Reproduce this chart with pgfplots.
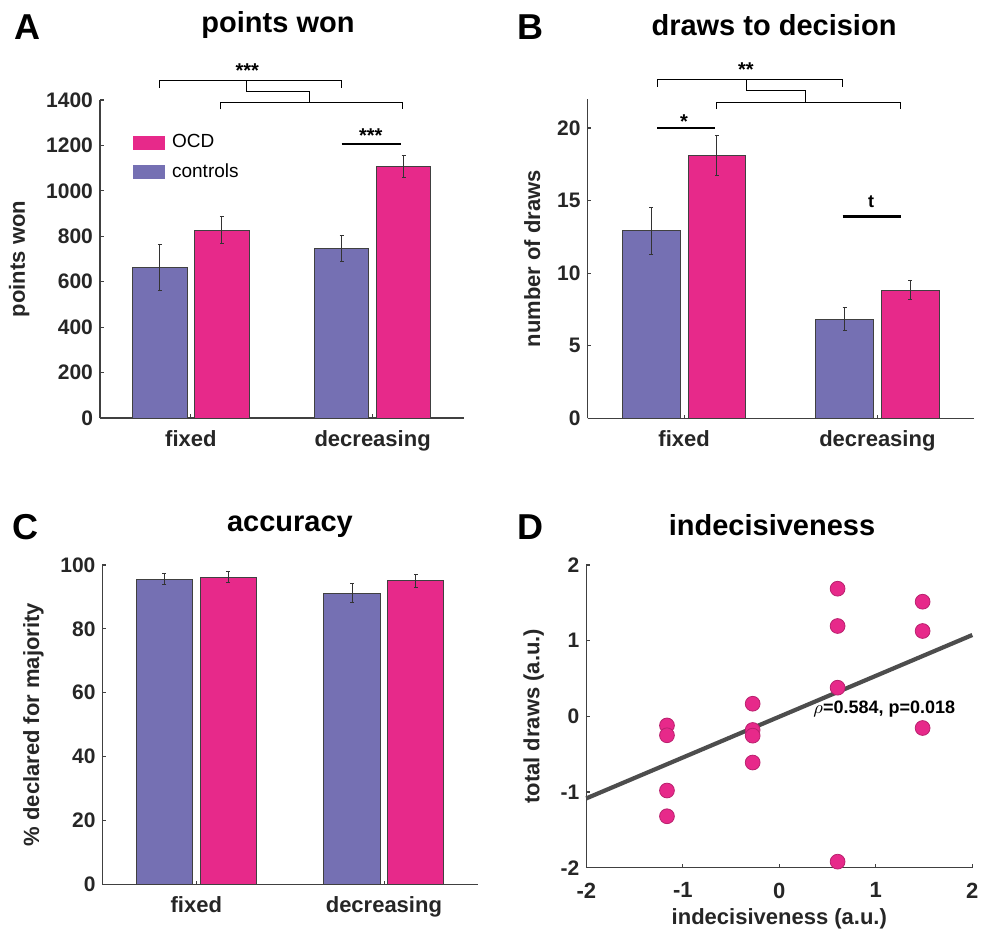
\documentclass[border=0pt]{standalone}
\usepackage{pgfplots}
\pgfplotsset{compat=1.18}
\usepackage{fontspec}
\setmainfont{Liberation Sans}
\definecolor{ctrl}{HTML}{7570B3}
\definecolor{ocd}{HTML}{E7298A}
\definecolor{axc}{HTML}{404040}
\definecolor{fitc}{HTML}{4D4D4D}
\pgfplotsset{
  myaxis/.style={
    scale only axis,
    anchor=south west,
    axis lines*=left,
    axis line style={-, axc, line width=0.6pt},
    tick style={axc, line width=0.6pt},
    tick align=inside,
    major tick length=1.8pt,
    /pgf/number format/assume math mode=true,
    /pgf/number format/set thousands separator={},
    tick label style={font=\bfseries\fontsize{10.5}{12}\selectfont, text=black!85},
    xticklabel style={font=\bfseries\fontsize{11}{12}\selectfont, yshift=-2.5pt},
    label style={font=\bfseries\fontsize{11}{12}\selectfont, text=black!85},
    ylabel style={xshift=0pt, yshift=1.5pt},
    clip=false,
  },
  barax/.style={
    myaxis,
    xmin=0.5, xmax=2.5, ymin=0,
    xtick={1,2}, xticklabels={fixed,decreasing},
    x tick style={axc, line width=0.4pt},
    error bars/y dir=both, error bars/y explicit,
    error bars/error mark options={rotate=90, mark size=1pt, line width=0.5pt, black!80},
    error bars/error bar style={line width=0.5pt, black!80},
  },
  cbar/.style={ybar, bar width=0.30, bar shift=0pt, fill=ctrl, draw=black!75, line width=0.5pt},
  obar/.style={ybar, bar width=0.30, bar shift=0pt, fill=ocd, draw=black!75, line width=0.5pt},
}
\begin{document}
\begin{tikzpicture}
\useasboundingbox (0pt,0pt) rectangle (494pt,464pt);
% ---------- A ----------
\begin{axis}[barax, at={(50pt,255pt)}, width=181.75pt, height=159pt,
  ymax=1400, ytick={0,200,...,1400}, ylabel={points won},
  legend style={at={(0.09,0.905)}, anchor=north west, draw=none, fill=none,
    font=\fontsize{9.5}{11}\selectfont, row sep=2.5pt, inner sep=0pt,
    /tikz/every even column/.append style={column sep=3pt}},
  legend image code/.code={\draw[#1, draw=none] (0pt,-3.5pt) rectangle (16pt,3.5pt);},
  legend cell align=left]
\addplot[obar] coordinates {(1.17,827) +- (0,58) (2.17,1107) +- (0,47)};
\addlegendentry{\hspace{1.5pt}OCD}
\addplot[cbar] coordinates {(0.83,663) +- (0,100) (1.83,745) +- (0,57)};
\addlegendentry{\hspace{1.5pt}controls}
\draw[black, line width=0.5pt] (axis cs:0.83,1454) -- (axis cs:0.83,1485) -- (axis cs:1.83,1485) -- (axis cs:1.83,1454);
\draw[black, line width=0.5pt] (axis cs:1.165,1359) -- (axis cs:1.165,1388) -- (axis cs:2.165,1388) -- (axis cs:2.165,1359);
\draw[black, line width=0.5pt] (axis cs:1.305,1485) -- (axis cs:1.305,1438) -- (axis cs:1.65,1438) -- (axis cs:1.65,1388);
\node[font=\bfseries\fontsize{10}{12}\selectfont] at (axis cs:1.31,1530) {***};
\draw[black, line width=1.1pt] (axis cs:1.83,1207) -- (axis cs:2.155,1207);
\node[font=\bfseries\fontsize{10}{12}\selectfont] at (axis cs:1.99,1245) {***};
\end{axis}
% ---------- B ----------
\begin{axis}[barax, at={(293.75pt,254.85pt)}, width=193.25pt, height=159.65pt,
  ymax=22, ytick={0,5,...,20}, ylabel={number of draws}]
\addplot[cbar] coordinates {(0.83,12.92) +- (0,1.6) (1.83,6.83) +- (0,0.77)};
\addplot[obar] coordinates {(1.17,18.09) +- (0,1.37) (2.17,8.83) +- (0,0.67)};
\draw[black, line width=0.5pt] (axis cs:0.86,22.83) -- (axis cs:0.86,23.31) -- (axis cs:1.82,23.31) -- (axis cs:1.82,22.83);
\draw[black, line width=0.5pt] (axis cs:1.17,21.31) -- (axis cs:1.17,21.79) -- (axis cs:2.12,21.79) -- (axis cs:2.12,21.31);
\draw[black, line width=0.5pt] (axis cs:1.323,23.31) -- (axis cs:1.323,22.57) -- (axis cs:1.628,22.57) -- (axis cs:1.628,21.79);
\node[font=\bfseries\fontsize{10}{12}\selectfont] at (axis cs:1.32,24.0) {**};
\draw[black, line width=1.1pt] (axis cs:0.86,20.0) -- (axis cs:1.16,20.0);
\node[font=\bfseries\fontsize{10}{12}\selectfont] at (axis cs:1.0,20.45) {*};
\draw[black, line width=1.1pt] (axis cs:1.82,13.9) -- (axis cs:2.12,13.9);
\node[font=\bfseries\fontsize{9}{11}\selectfont] at (axis cs:1.967,14.9) {t};
\end{axis}
% ---------- C ----------
\begin{axis}[barax, at={(51.25pt,21.85pt)}, width=187.6pt, height=159.65pt,
  ymax=100, ytick={0,20,...,100}, ylabel={\% declared for majority}]
\addplot[cbar] coordinates {(0.83,95.6) +- (0,1.6) (1.83,91.2) +- (0,2.9)};
\addplot[obar] coordinates {(1.17,96.2) +- (0,1.7) (2.17,95.0) +- (0,2.0)};
\end{axis}
% ---------- D ----------
\begin{axis}[myaxis, at={(293.15pt,30.15pt)}, width=193pt, height=151.35pt,
  xmin=-2, xmax=2, ymin=-2, ymax=2, xtick={-2,-1,0,1,2}, ytick={-2,-1,0,1,2},
  xticklabel style={yshift=-1.5pt},
  xlabel={indecisiveness (a.u.)}, ylabel={total draws (a.u.)},
  xlabel style={yshift=2pt}]
\addplot[fitc, line width=2.1pt] coordinates {(-2,-1.084) (2,1.075)};
\addplot[only marks, mark=*, mark size=3.7pt, mark options={fill=ocd, draw=ocd!80!black, line width=0.4pt}] coordinates {
(-1.164,-0.12) (-1.164,-0.25) (-1.164,-0.98) (-1.164,-1.32)
(-0.276,0.167) (-0.276,-0.18) (-0.276,-0.255) (-0.276,-0.61)
(0.604,1.687) (0.604,1.194) (0.604,0.379) (0.604,-1.92)
(1.485,1.515) (1.485,1.128) (1.485,-0.154)};
\node[anchor=west, font=\bfseries\fontsize{9}{11}\selectfont, inner sep=0pt] at (axis cs:0.35,0.09) {$\rho$=0.584, p=0.018};
\end{axis}
% ---------- titles and letters ----------
\begin{scope}[every node/.style={font=\bfseries\fontsize{14.5}{17}\selectfont}]
\node at (139pt,451.5pt) {points won};
\node at (387pt,451.5pt) {draws to decision};
\node at (145pt,200.5pt) {accuracy};
\node at (386pt,201.5pt) {indecisiveness};
\end{scope}
\begin{scope}[every node/.style={font=\bfseries\fontsize{18}{20}\selectfont}]
\node at (13.5pt,450.5pt) {A};
\node at (265pt,450.5pt) {B};
\node at (12.5pt,200.5pt) {C};
\node at (265pt,200.5pt) {D};
\end{scope}
\end{tikzpicture}
\end{document}
